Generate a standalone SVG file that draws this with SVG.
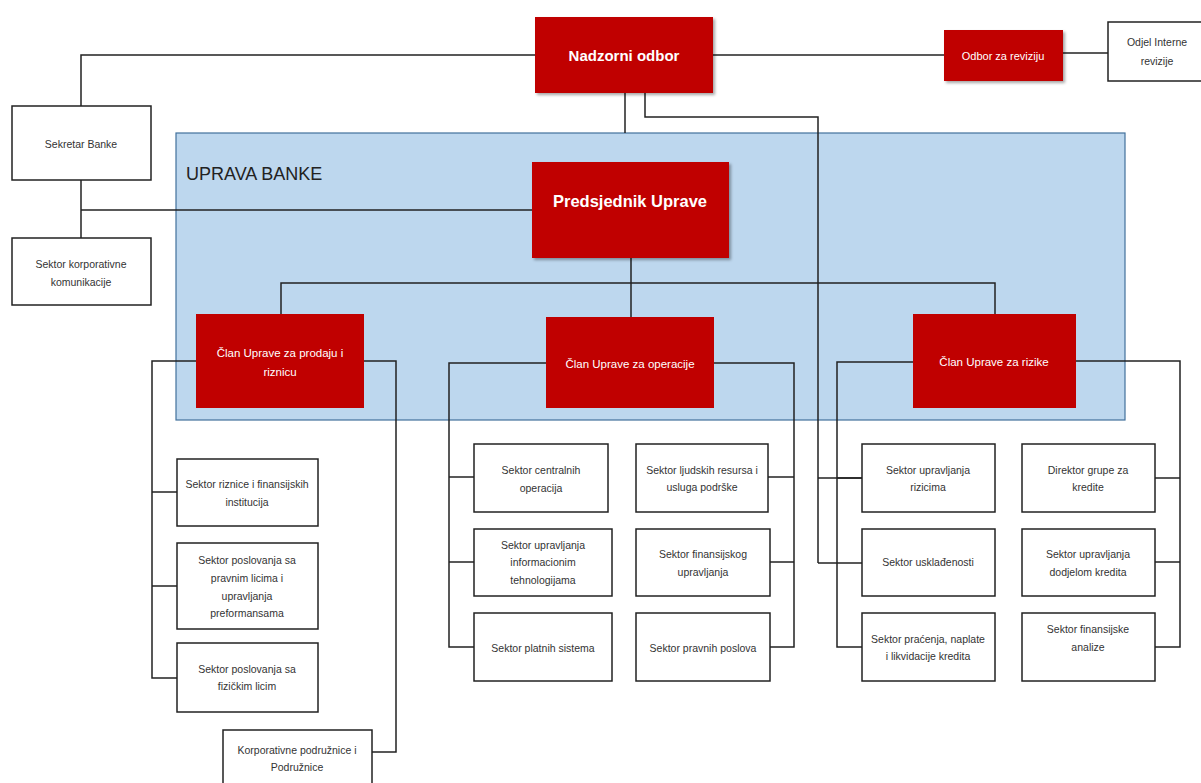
<svg xmlns="http://www.w3.org/2000/svg" width="1201" height="783" viewBox="0 0 1201 783">
<defs>
<style>
.red{fill:#C00000;}
.wb{fill:#fff;stroke:#222;stroke-width:1.5;}
.rt{fill:#fff;font-family:"Liberation Sans",Arial,sans-serif;text-anchor:middle;}
.bt{fill:#333;font-family:"Liberation Sans",Arial,sans-serif;font-size:10.5px;text-anchor:middle;}
.c{fill:none;stroke:#222;stroke-width:1.5;}
</style>
<filter id="sh" x="-10%" y="-10%" width="130%" height="130%">
<feGaussianBlur in="SourceAlpha" stdDeviation="1.5"/>
<feOffset dx="2" dy="2" result="o"/>
<feFlood flood-color="#000" flood-opacity="0.35"/>
<feComposite in2="o" operator="in"/>
<feMerge><feMergeNode/><feMergeNode in="SourceGraphic"/></feMerge>
</filter>
</defs>
<rect width="1201" height="783" fill="#fff"/>
<g id="uprava-banke">
<rect x="176" y="133" width="949" height="287" fill="#BDD7EE" stroke="#41719C" stroke-width="1.2"/>
<text x="186" y="180" font-family="Liberation Sans,Arial,sans-serif" font-size="18" fill="#222">UPRAVA BANKE</text>
</g>
<g id="connectors">
<polyline class="c" points="535,55 81,55 81,106"/>
<polyline class="c" points="713,55 944,55"/>
<polyline class="c" points="1063,53 1108,53"/>
<polyline class="c" points="81,180 81,238"/>
<polyline class="c" points="81,210 532,210"/>
<polyline class="c" points="625,93 625,133"/>
<polyline class="c" points="645,93 645,117 818,117 818,563"/>
<polyline class="c" points="818,478 862,478"/>
<polyline class="c" points="818,563 862,563"/>
<polyline class="c" points="631,258 631,317"/>
<polyline class="c" points="281,314 281,283 995,283 995,314"/>
<polyline class="c" points="196,361 152,361 152,678 177,678"/>
<polyline class="c" points="152,492 177,492"/>
<polyline class="c" points="152,586 177,586"/>
<polyline class="c" points="364,361 396,361 396,752 372,752"/>
<polyline class="c" points="546,363 449,363 449,647 474,647"/>
<polyline class="c" points="449,477 474,477"/>
<polyline class="c" points="449,562 474,562"/>
<polyline class="c" points="714,363 794,363 794,647 770,647"/>
<polyline class="c" points="768,477 794,477"/>
<polyline class="c" points="770,562 794,562"/>
<polyline class="c" points="913,362 837,362 837,647 862,647"/>
<polyline class="c" points="837,478 862,478"/>
<polyline class="c" points="1076,361 1180,361 1180,647 1155,647"/>
<polyline class="c" points="1155,478 1180,478"/>
<polyline class="c" points="1155,562 1180,562"/>
</g>
<g id="nadzorni-odbor">
<rect class="red" x="535" y="17" width="178" height="76" filter="url(#sh)"/>
<text class="rt" x="624" y="61" font-size="15" font-weight="bold">Nadzorni odbor</text>
</g>
<g id="odbor-za-reviziju">
<rect class="red" x="944" y="30" width="119" height="51" filter="url(#sh)"/>
<text class="rt" x="1003" y="60" font-size="11">Odbor za reviziju</text>
</g>
<g id="odjel-interne-revizije">
<rect class="wb" x="1108" y="22" width="100" height="59"/>
<text class="bt" x="1157" y="46">Odjel Interne</text>
<text class="bt" x="1157" y="65">revizije</text>
</g>
<g id="sekretar-banke">
<rect class="wb" x="12" y="106" width="139" height="74"/>
<text class="bt" x="81" y="148">Sekretar Banke</text>
</g>
<g id="sektor-korporativne-komunikacije">
<rect class="wb" x="12" y="238" width="139" height="67"/>
<text class="bt" x="81" y="268">Sektor korporativne</text>
<text class="bt" x="81" y="286">komunikacije</text>
</g>
<g id="predsjednik-uprave">
<rect class="red" x="532" y="162" width="197" height="96" filter="url(#sh)"/>
<text class="rt" x="630" y="207" font-size="16.5" font-weight="bold">Predsjednik Uprave</text>
</g>
<g id="clan-prodaja">
<rect class="red" x="196" y="314" width="168" height="94"/>
<text class="rt" x="280" y="357" font-size="11.5">Član Uprave za prodaju i</text>
<text class="rt" x="280" y="376" font-size="11.5">riznicu</text>
</g>
<g id="clan-operacije">
<rect class="red" x="546" y="317" width="168" height="91"/>
<text class="rt" x="630" y="368" font-size="11.5">Član Uprave za operacije</text>
</g>
<g id="clan-rizike">
<rect class="red" x="913" y="314" width="163" height="94"/>
<text class="rt" x="994" y="366" font-size="11.5">Član Uprave za rizike</text>
</g>
<g id="sektor-riznice">
<rect class="wb" x="177" y="459" width="141" height="67"/>
<text class="bt" x="247" y="488">Sektor riznice i finansijskih</text>
<text class="bt" x="247" y="506">institucija</text>
</g>
<g id="sektor-pravna-lica">
<rect class="wb" x="177" y="543" width="141" height="86"/>
<text class="bt" x="247" y="564">Sektor poslovanja sa</text>
<text class="bt" x="247" y="582">pravnim licima i</text>
<text class="bt" x="247" y="600">upravljanja</text>
<text class="bt" x="247" y="617">preformansama</text>
</g>
<g id="sektor-fizicka-lica">
<rect class="wb" x="177" y="643" width="141" height="69"/>
<text class="bt" x="247" y="673">Sektor poslovanja sa</text>
<text class="bt" x="247" y="690">fizičkim licim</text>
</g>
<g id="korporativne-podruznice">
<rect class="wb" x="223" y="730" width="149" height="60"/>
<text class="bt" x="297" y="754">Korporativne podružnice i</text>
<text class="bt" x="297" y="771">Podružnice</text>
</g>
<g id="sektor-centralnih-operacija">
<rect class="wb" x="474" y="444" width="134" height="68"/>
<text class="bt" x="541" y="474">Sektor centralnih</text>
<text class="bt" x="541" y="492">operacija</text>
</g>
<g id="sektor-it">
<rect class="wb" x="474" y="529" width="138" height="67"/>
<text class="bt" x="543" y="549">Sektor upravljanja</text>
<text class="bt" x="543" y="566">informacionim</text>
<text class="bt" x="543" y="584">tehnologijama</text>
</g>
<g id="sektor-platnih-sistema">
<rect class="wb" x="474" y="613" width="138" height="68"/>
<text class="bt" x="543" y="652">Sektor platnih sistema</text>
</g>
<g id="sektor-ljudskih-resursa">
<rect class="wb" x="636" y="444" width="132" height="68"/>
<text class="bt" x="702" y="474">Sektor ljudskih resursa i</text>
<text class="bt" x="702" y="491">usluga podrške</text>
</g>
<g id="sektor-finansijskog-upravljanja">
<rect class="wb" x="636" y="529" width="134" height="67"/>
<text class="bt" x="703" y="558">Sektor finansijskog</text>
<text class="bt" x="703" y="576">upravljanja</text>
</g>
<g id="sektor-pravnih-poslova">
<rect class="wb" x="636" y="613" width="134" height="68"/>
<text class="bt" x="703" y="652">Sektor pravnih poslova</text>
</g>
<g id="sektor-upravljanja-rizicima">
<rect class="wb" x="862" y="444" width="133" height="68"/>
<text class="bt" x="928" y="474">Sektor upravljanja</text>
<text class="bt" x="928" y="491">rizicima</text>
</g>
<g id="sektor-uskladenosti">
<rect class="wb" x="862" y="529" width="133" height="67"/>
<text class="bt" x="928" y="566">Sektor usklađenosti</text>
</g>
<g id="sektor-pracenja">
<rect class="wb" x="862" y="613" width="133" height="68"/>
<text class="bt" x="928" y="643">Sektor praćenja, naplate</text>
<text class="bt" x="928" y="660">i likvidacije kredita</text>
</g>
<g id="direktor-grupe-za-kredite">
<rect class="wb" x="1022" y="444" width="133" height="68"/>
<text class="bt" x="1088" y="474">Direktor grupe za</text>
<text class="bt" x="1088" y="491">kredite</text>
</g>
<g id="sektor-dodjele-kredita">
<rect class="wb" x="1022" y="529" width="133" height="67"/>
<text class="bt" x="1088" y="558">Sektor upravljanja</text>
<text class="bt" x="1088" y="576">dodjelom kredita</text>
</g>
<g id="sektor-finansijske-analize">
<rect class="wb" x="1022" y="613" width="133" height="68"/>
<text class="bt" x="1088" y="633">Sektor finansijske</text>
<text class="bt" x="1088" y="651">analize</text>
</g>
</svg>
